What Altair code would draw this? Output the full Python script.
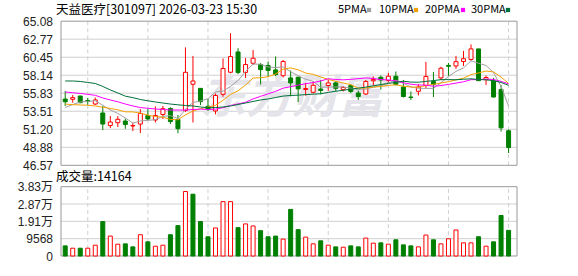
import json
import altair as alt
import pandas as pd

# ---------------- data ----------------
dates = ["12-18", "12-19", "12-22", "12-23", "12-24", "12-25", "12-26", "12-29", "12-30", "12-31",
         "01-05", "01-06", "01-07", "01-08", "01-09", "01-12", "01-13", "01-14", "01-15", "01-16",
         "01-19", "01-20", "01-21", "01-22", "01-23", "01-26", "01-27", "01-28", "01-29", "01-30",
         "02-02", "02-03", "02-04", "02-05", "02-06", "02-09", "02-10", "02-11", "02-12", "02-13",
         "02-24", "02-25", "02-26", "02-27", "03-02", "03-03", "03-04", "03-05", "03-06", "03-09",
         "03-10", "03-11", "03-12", "03-13", "03-16", "03-17", "03-18", "03-19", "03-20", "03-23"]

opens = [55.08, 55.05, 55.47, 54.89, 54.44, 53.29, 51.68, 52.04, 52.26, 51.62,
         51.87, 52.97, 52.39, 53.10, 53.87, 52.45, 53.61, 56.98, 56.45, 54.15,
         53.55, 55.69, 58.52, 61.13, 58.50, 59.68, 59.52, 59.40, 58.82, 58.08,
         57.79, 57.88, 56.31, 55.95, 56.37, 56.82, 57.15, 56.29, 56.80, 55.86,
         55.73, 57.43, 57.88, 57.47, 58.01, 56.63, 55.34, 56.08, 56.82, 57.34,
         57.79, 59.40, 59.33, 59.91, 60.17, 61.52, 57.57, 57.40, 56.31, 51.01]
highs = [56.12, 55.60, 55.50, 55.22, 55.28, 54.19, 52.90, 52.90, 52.58, 52.04,
         53.80, 53.80, 54.12, 54.19, 54.02, 53.03, 61.71, 60.62, 56.50, 55.09,
         55.80, 60.30, 63.54, 61.61, 60.36, 61.39, 59.72, 59.91, 60.55, 60.10,
         58.75, 57.96, 57.15, 57.40, 57.53, 57.53, 57.34, 56.76, 56.95, 56.18,
         57.53, 57.98, 58.11, 58.43, 58.62, 57.53, 56.05, 57.02, 59.85, 58.56,
         59.24, 59.72, 60.62, 61.26, 62.10, 61.52, 58.11, 57.79, 56.89, 51.17]
lows = [54.19, 54.61, 54.55, 54.32, 54.32, 51.10, 51.36, 51.49, 51.26, 50.97,
        50.72, 52.39, 52.07, 52.52, 51.87, 50.68, 53.42, 52.07, 54.30, 53.55,
        53.12, 55.38, 58.39, 58.27, 57.79, 59.46, 56.95, 57.92, 58.05, 57.85,
        55.41, 54.70, 55.51, 55.80, 55.69, 56.12, 56.12, 56.05, 55.82, 54.96,
        55.60, 56.82, 56.31, 57.15, 56.82, 55.28, 54.96, 55.54, 56.44, 55.34,
        57.53, 58.05, 58.95, 59.33, 59.98, 57.40, 56.89, 55.28, 50.91, 48.14]
closes = [54.73, 55.26, 54.61, 54.77, 54.96, 51.87, 52.13, 52.48, 51.81, 51.68,
          53.22, 52.52, 52.97, 53.84, 52.19, 51.27, 58.52, 57.40, 54.74, 53.74,
          55.54, 59.01, 60.53, 58.50, 59.52, 60.32, 58.86, 58.75, 58.21, 59.91,
          57.15, 56.38, 56.44, 56.85, 56.18, 57.15, 56.46, 56.57, 56.05, 55.41,
          57.34, 57.60, 57.53, 58.01, 56.95, 55.41, 55.28, 56.63, 57.98, 56.95,
          59.04, 59.29, 59.88, 60.26, 61.52, 57.44, 57.85, 55.34, 51.38, 48.85]
prev_close = 55.30  # close of the session before the first visible one

volumes = [5600, 4300, 4300, 4300, 5970, 19020, 11000, 6530, 6710, 5040,
           11750, 7830, 5410, 5970, 11750, 16790, 35620, 34130, 19020, 10630,
           15480, 30030, 30030, 15670, 17720, 16600, 13990, 10630, 11000, 9330,
           25740, 14550, 10440, 6710, 8390, 5970, 5040, 4850, 5600, 5040,
           9890, 7090, 7270, 6530, 8950, 6150, 5600, 5040, 11580, 8950,
           6710, 9510, 14380, 7270, 7270, 10630, 5410, 7830, 22380, 14164]

ma5 = [53.99, 54.38, 54.70, 54.77, 54.87, 54.29, 53.67, 53.24, 52.65, 51.99,
       52.26, 52.34, 52.44, 52.85, 52.95, 52.56, 53.76, 54.64, 54.82, 55.13,
       55.99, 56.09, 56.71, 57.46, 58.62, 59.58, 59.55, 59.19, 59.13, 59.21,
       58.58, 58.08, 57.62, 57.35, 56.60, 56.62, 56.62, 56.64, 56.48, 56.33,
       56.37, 56.59, 56.79, 57.18, 57.49, 57.10, 56.64, 56.46, 56.45, 56.45,
       57.18, 57.98, 58.63, 59.08, 60.00, 59.68, 59.39, 58.48, 56.71, 54.17]
ma10 = [54.43, 54.36, 54.32, 54.28, 54.19, 54.03, 53.87, 53.70, 53.44, 53.43,
        53.28, 53.01, 52.84, 52.75, 52.47, 52.41, 53.05, 53.54, 53.84, 54.04,
        54.27, 54.92, 55.68, 56.14, 56.88, 57.78, 57.82, 57.95, 58.30, 58.92,
        59.08, 58.83, 58.42, 58.25, 57.92, 57.60, 57.36, 57.14, 56.93, 56.48,
        56.50, 56.61, 56.71, 56.83, 56.91, 56.73, 56.62, 56.62, 56.81, 56.97,
        57.14, 57.31, 57.54, 57.77, 58.22, 58.43, 58.68, 58.56, 57.90, 57.09]
ma20 = [55.99, 55.89, 55.80, 55.69, 55.56, 55.22, 54.96, 54.73, 54.44, 54.19,
        53.99, 53.89, 53.80, 53.74, 53.67, 53.67, 53.67, 53.74, 53.78, 53.74,
        53.78, 53.96, 54.26, 54.45, 54.67, 55.10, 55.43, 55.75, 56.07, 56.48,
        56.67, 56.87, 57.05, 57.20, 57.40, 57.69, 57.59, 57.55, 57.61, 57.70,
        57.79, 57.72, 57.57, 57.54, 57.41, 57.17, 56.99, 56.88, 56.87, 56.72,
        56.82, 56.96, 57.13, 57.30, 57.57, 57.58, 57.65, 57.59, 57.35, 57.03]
ma30 = [57.40, 57.40, 57.34, 57.21, 57.08, 56.70, 56.25, 55.86, 55.45, 55.26,
        55.02, 54.86, 54.70, 54.57, 54.44, 54.34, 54.25, 54.19, 54.06, 53.97,
        53.99, 54.06, 54.19, 54.38, 54.57, 54.77, 54.96, 55.09, 55.28, 55.46,
        55.54, 55.58, 55.65, 55.71, 55.76, 55.93, 56.08, 56.21, 56.35, 56.48,
        56.61, 56.78, 56.94, 57.08, 57.23, 57.37, 57.26, 57.24, 57.35, 57.45,
        57.57, 57.58, 57.56, 57.62, 57.68, 57.59, 57.55, 57.44, 57.21, 56.84]

price_ticks = [46.57, 48.88, 51.20, 53.51, 55.83, 58.14, 60.45, 62.77, 65.08]
vol_ticks = [0, 9568, 19136, 28704, 38272]
date_ticks = ["12-23", "01-06", "01-16", "01-28", "02-09", "02-27", "03-11", "03-23"]

title_text = "天益医疗[301097] 2026-03-23 15:30"
vol_title = "成交量:14164"
watermark = "东方财富"
ma_names = ["5PMA", "10PMA", "20PMA", "30PMA"]

# ---------------- styling ----------------
RED = "#ff0000"
GREEN = "#008000"
ma_colors = ["#a0a0a0", "#f5a100", "#ff00ff", "#00703a"]
GRID = "#d0d0d0"
FRAME = "#999999"
CJK = "Noto Sans CJK SC"
NUM = "Liberation Sans, Noto Sans CJK SC"

n = len(dates)
X_DOM = [-0.56, n + 0.12]
x_scale = alt.Scale(domain=X_DOM, range=[56, 522], nice=False, zero=False)
p_scale = alt.Scale(domain=[price_ticks[0], price_ticks[-1]], range=[165.3, 21.2], nice=False, zero=False)
v_scale = alt.Scale(domain=[vol_ticks[0], vol_ticks[-1]], range=[256, 186.7], nice=False, zero=False)

df = pd.DataFrame({"i": list(range(n)), "date": dates, "open": opens, "high": highs,
                   "low": lows, "close": closes, "vol": volumes})
df["dir"] = ["up" if c >= o else "down" for o, c in zip(opens, closes)]
prevs = [prev_close] + closes[:-1]
df["vdir"] = ["up" if c >= p else "down" for c, p in zip(closes, prevs)]
df["v0"] = 0

stroke_enc = alt.Stroke("dir:N", scale=alt.Scale(domain=["up", "down"], range=[RED, GREEN]), legend=None)
fill_enc = alt.Fill("dir:N", scale=alt.Scale(domain=["up", "down"], range=["#ffffff", GREEN]), legend=None)
vstroke_enc = alt.Stroke("vdir:N", scale=alt.Scale(domain=["up", "down"], range=[RED, GREEN]), legend=None)
vfill_enc = alt.Fill("vdir:N", scale=alt.Scale(domain=["up", "down"], range=["#ffffff", GREEN]), legend=None)

X = lambda f: alt.X(f, scale=x_scale, axis=None)

# grid data
pg = pd.DataFrame({"p": price_ticks[1:-1], "x0": X_DOM[0], "x1": X_DOM[1]})
vg = pd.DataFrame({"v": vol_ticks[1:-1], "x0": X_DOM[0], "x1": X_DOM[1]})
tick_idx = [dates.index(d) for d in date_ticks]
dg = pd.DataFrame({"i": tick_idx, "p0": price_ticks[0], "p1": price_ticks[-1],
                   "v0": vol_ticks[0], "v1": vol_ticks[-1]})
frame = pd.DataFrame({"x0": [X_DOM[0]], "x1": [X_DOM[1]],
                      "p0": [price_ticks[0]], "p1": [price_ticks[-1]],
                      "v0": [vol_ticks[0]], "v1": [vol_ticks[-1]]})

price_axis = alt.Axis(orient="left", values=price_ticks, format=".2f", offset=-55.5,
                      domain=False, ticks=False, tickSize=0, grid=False, labelPadding=3,
                      labelFont=NUM, labelFontSize=12, labelColor="#222222", title=None,
                      labelOverlap=False)
vol_axis = alt.Axis(orient="left", values=vol_ticks, offset=-55.5,
                    labelExpr="datum.value >= 10000 ? format(datum.value / 10000, '.2f') + '万' : format(datum.value, 'd')",
                    domain=False, ticks=False, tickSize=0, grid=False, labelPadding=3,
                    labelFont=NUM, labelFontSize=12, labelColor="#222222", title=None,
                    labelOverlap=False)
date_axis = alt.Axis(orient="bottom", values=tick_idx, labelExpr=json.dumps(dates) + "[datum.value]",
                     offset=-20, domain=False, ticks=False, tickSize=0, grid=False, labelPadding=4,
                     labelFont=CJK, labelFontSize=12, labelColor=RED, title=None,
                     labelFlush=False, labelOverlap=False)

layers = []

# horizontal grids (carry the y axes)
layers.append(alt.Chart(pg).mark_rule(color=GRID, strokeWidth=1).encode(
    x=X("x0:Q"), x2="x1:Q", y=alt.Y("p:Q", scale=p_scale, axis=price_axis)))
layers.append(alt.Chart(vg).mark_rule(color=GRID, strokeWidth=1).encode(
    x=X("x0:Q"), x2="x1:Q", y=alt.Y("v:Q", scale=v_scale, axis=vol_axis)))
# vertical dashed grids
layers.append(alt.Chart(dg).mark_rule(color=GRID, strokeWidth=1, strokeDash=[4, 3]).encode(
    x=X("i:Q"), y=alt.Y("p0:Q", scale=p_scale, axis=None), y2="p1:Q"))
layers.append(alt.Chart(dg).mark_rule(color=GRID, strokeWidth=1, strokeDash=[4, 3]).encode(
    x=X("i:Q"), y=alt.Y("v0:Q", scale=v_scale, axis=None), y2="v1:Q"))

# watermark
layers.append(alt.Chart(pd.DataFrame({"t": [watermark]})).mark_text(
    font=CJK, fontSize=46, fontWeight="bold", fontStyle="italic", color="#e4e4ea",
    align="center", baseline="middle").encode(x=alt.value(292), y=alt.value(99), text="t:N"))

# frames
layers.append(alt.Chart(frame).mark_rect(fillOpacity=0, stroke=FRAME, strokeWidth=1).encode(
    x=X("x0:Q"), x2="x1:Q", y=alt.Y("p0:Q", scale=p_scale, axis=None), y2="p1:Q"))
layers.append(alt.Chart(frame).mark_rect(fillOpacity=0, stroke=FRAME, strokeWidth=1).encode(
    x=X("x0:Q"), x2="x1:Q", y=alt.Y("v0:Q", scale=v_scale, axis=None), y2="v1:Q"))

# candles
layers.append(alt.Chart(df).mark_rule(strokeWidth=1).encode(
    x=X("i:Q"), y=alt.Y("low:Q", scale=p_scale, axis=None), y2="high:Q", stroke=stroke_enc))
layers.append(alt.Chart(df).mark_bar(size=4, strokeWidth=1, orient="vertical").encode(
    x=X("i:Q"), y=alt.Y("open:Q", scale=p_scale, axis=None), y2="close:Q",
    fill=fill_enc, stroke=stroke_enc))

# moving averages
ma_df = pd.concat([pd.DataFrame({"i": list(range(n)), "val": vals, "name": nm})
                   for nm, vals in zip(ma_names, [ma5, ma10, ma20, ma30])], ignore_index=True)
layers.append(alt.Chart(ma_df).mark_line(strokeWidth=1).encode(
    x=X("i:Q"), y=alt.Y("val:Q", scale=p_scale, axis=None),
    color=alt.Color("name:N", scale=alt.Scale(domain=ma_names, range=ma_colors), legend=None),
    detail="name:N"))

# volume bars (carry the date axis)
layers.append(alt.Chart(df).mark_bar(size=4, strokeWidth=1, orient="vertical").encode(
    x=alt.X("i:Q", scale=x_scale, axis=date_axis),
    y=alt.Y("vol:Q", scale=v_scale, axis=None), y2="v0:Q",
    fill=vfill_enc, stroke=vstroke_enc))

# texts
layers.append(alt.Chart(pd.DataFrame({"t": [title_text]})).mark_text(
    font=CJK, fontSize=12.5, color="#000000", align="left", baseline="middle").encode(
    x=alt.value(56), y=alt.value(10), text="t:N"))
layers.append(alt.Chart(pd.DataFrame({"t": [vol_title]})).mark_text(
    font=CJK, fontSize=12.5, color="#000000", align="left", baseline="middle").encode(
    x=alt.value(56), y=alt.value(177), text="t:N"))

legend_text_x = [338, 379, 425, 471]
legend_box_x = [369, 416, 463, 508]
for nm, col, tx, bx in zip(ma_names, ma_colors, legend_text_x, legend_box_x):
    layers.append(alt.Chart(pd.DataFrame({"t": [nm]})).mark_text(
        font=CJK, fontSize=11, color="#000000", align="left", baseline="middle").encode(
        x=alt.value(tx), y=alt.value(10), text="t:N"))
    layers.append(alt.Chart(pd.DataFrame({"t": [nm]})).mark_square(
        size=18, color=col, opacity=1).encode(x=alt.value(bx), y=alt.value(10)))

chart = alt.layer(*layers).properties(
    width=578, height=276, padding=0, autosize=alt.AutoSizeParams(type="none")
).resolve_scale(y="independent").configure_view(strokeWidth=0)

chart.save("out.html", embed_options={"renderer": "svg", "actions": False})
